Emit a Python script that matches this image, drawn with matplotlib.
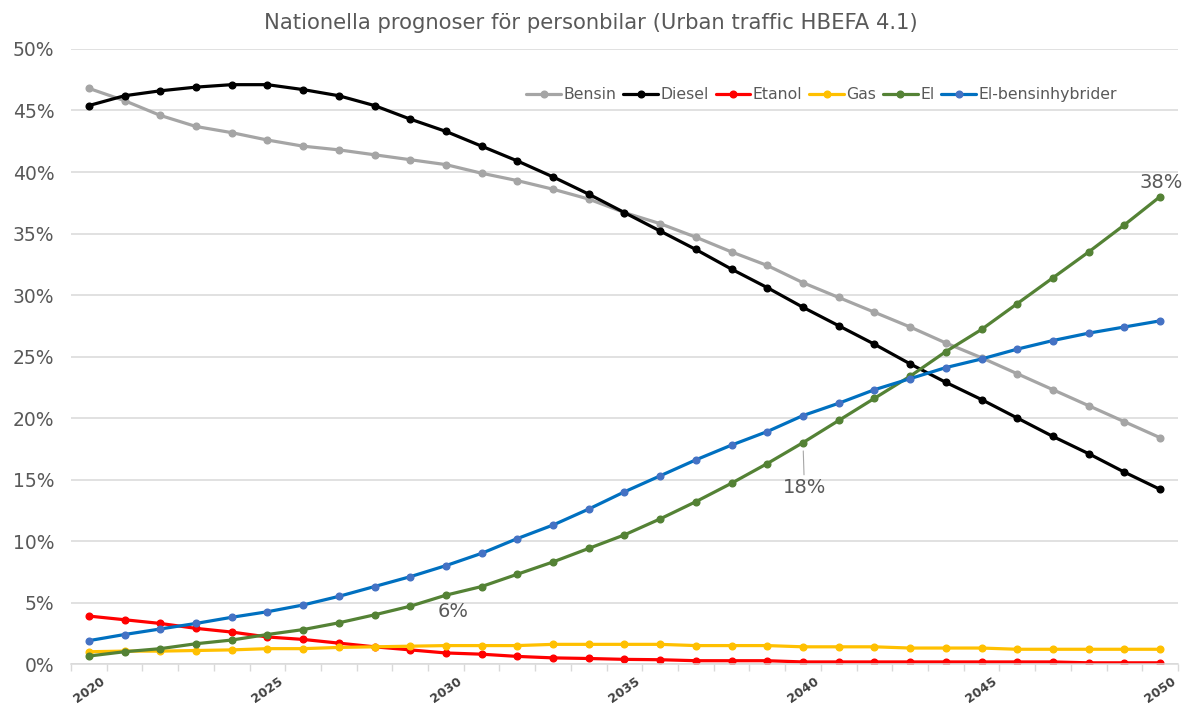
import matplotlib
matplotlib.use("Agg")
import matplotlib.pyplot as plt
from matplotlib.ticker import FixedLocator, FuncFormatter

years = list(range(2020, 2051))

bensin = [46.8, 45.8, 44.6, 43.7, 43.2, 42.6, 42.1, 41.8, 41.4, 41.0,
          40.6, 39.9, 39.3, 38.6, 37.8, 36.7, 35.8, 34.7, 33.5, 32.4,
          31.0, 29.8, 28.6, 27.4, 26.1, 24.9, 23.6, 22.3, 21.0, 19.7, 18.4]
diesel = [45.4, 46.2, 46.6, 46.9, 47.1, 47.1, 46.7, 46.2, 45.4, 44.3,
          43.3, 42.1, 40.9, 39.6, 38.2, 36.7, 35.2, 33.7, 32.1, 30.6,
          29.0, 27.5, 26.0, 24.4, 22.9, 21.5, 20.0, 18.5, 17.1, 15.6, 14.2]
etanol = [3.9, 3.6, 3.3, 2.9, 2.6, 2.2, 2.0, 1.7, 1.4, 1.15,
          0.9, 0.8, 0.62, 0.5, 0.45, 0.38, 0.35, 0.27, 0.27, 0.27,
          0.17, 0.17, 0.17, 0.17, 0.17, 0.17, 0.17, 0.17, 0.1, 0.1, 0.1]
gas = [1.0, 1.05, 1.05, 1.1, 1.15, 1.25, 1.25, 1.35, 1.4, 1.45,
       1.5, 1.5, 1.5, 1.6, 1.6, 1.6, 1.6, 1.5, 1.5, 1.5,
       1.4, 1.4, 1.4, 1.3, 1.3, 1.3, 1.2, 1.2, 1.2, 1.2, 1.2]
el = [0.65, 1.0, 1.25, 1.65, 1.95, 2.4, 2.8, 3.35, 4.0, 4.7,
      5.6, 6.3, 7.3, 8.3, 9.4, 10.5, 11.8, 13.2, 14.7, 16.3,
      18.0, 19.8, 21.6, 23.4, 25.4, 27.2, 29.3, 31.4, 33.5, 35.7, 38.0]
hybrid = [1.9, 2.4, 2.85, 3.3, 3.8, 4.25, 4.8, 5.5, 6.3, 7.1,
          8.0, 9.0, 10.2, 11.3, 12.6, 14.0, 15.3, 16.6, 17.8, 18.9,
          20.2, 21.2, 22.3, 23.2, 24.1, 24.8, 25.6, 26.3, 26.9, 27.4, 27.9]

series_names = ["Bensin", "Diesel", "Etanol", "Gas", "El", "El-bensinhybrider"]
series_values = [bensin, diesel, etanol, gas, el, hybrid]
line_colors = ["#A5A5A5", "#000000", "#FF0000", "#FFC000", "#548235", "#0070C0"]
marker_colors = ["#A5A5A5", "#000000", "#FF0000", "#FFC000", "#548235", "#4472C4"]

# years on the El series that carry a value label
labelled_years = [2030, 2040, 2050]

title = "Nationella prognoser för personbilar (Urban traffic HBEFA 4.1)"

plt.rcParams["font.family"] = ["DejaVu Sans"]
text_grey = "#595959"
grid_grey = "#D9D9D9"

fig = plt.figure(figsize=(11.89, 7.08), dpi=100)
ax = fig.add_axes([0.0597, 0.0621, 0.9310, 0.8687])

for name, vals, lc, mc in zip(series_names, series_values, line_colors, marker_colors):
    ax.plot(years, [v / 100 for v in vals], color=lc, lw=2.3, marker="o",
            markersize=4.8, markerfacecolor=mc, markeredgecolor=mc,
            label=name, solid_capstyle="round")

ax.set_xlim(2019.5, 2050.5)
ax.set_ylim(0, 0.5)

ax.yaxis.set_major_locator(FixedLocator([i * 0.05 for i in range(11)]))
ax.yaxis.set_major_formatter(FuncFormatter(lambda v, p: f"{v * 100:.0f}%"))
ax.grid(axis="y", color=grid_grey, lw=1.1)
ax.set_axisbelow(True)
ax.tick_params(axis="y", length=0, pad=12, labelsize=13.5, labelcolor=text_grey)

ax.xaxis.set_major_locator(FixedLocator(list(range(2020, 2051, 5))))
ax.xaxis.set_minor_locator(FixedLocator([y + 0.5 for y in range(2019, 2051)]))
ax.tick_params(axis="x", which="major", length=0, pad=8, labelsize=9,
               labelcolor="#404040")
ax.tick_params(axis="x", which="minor", length=5, color=grid_grey, width=1)
for lbl in ax.get_xticklabels():
    lbl.set_rotation(35)
    lbl.set_fontweight("bold")
    lbl.set_ha("center")
    lbl.set_va("top")

for side in ["top", "right", "left"]:
    ax.spines[side].set_visible(False)
ax.spines["bottom"].set_color(grid_grey)
ax.spines["bottom"].set_linewidth(1.1)

# value labels on the El series
el_idx = series_names.index("El")
offsets = {2030: (5, -12), 2040: (1, -32), 2050: (1, 10)}
for yr in labelled_years:
    v = series_values[el_idx][years.index(yr)]
    dx, dy = offsets[yr]
    arrow = None
    if yr == 2040:
        arrow = dict(arrowstyle="-", color="#A6A6A6", lw=0.8,
                     shrinkA=0, shrinkB=6)
    ax.annotate(f"{v:.0f}%", xy=(yr, v / 100), xytext=(dx, dy),
                textcoords="offset points", ha="center", va="center",
                fontsize=14, color=text_grey, arrowprops=arrow)

fig.text(0.497, 0.968, title, ha="center", va="center", fontsize=15.2,
         color=text_grey)

leg = ax.legend(loc="center", bbox_to_anchor=(0.691, 0.866),
                bbox_transform=fig.transFigure, ncol=6, frameon=False,
                fontsize=11.3, handlelength=2.2, handletextpad=0.15,
                columnspacing=0.45, borderaxespad=0)
for t in leg.get_texts():
    t.set_color(text_grey)

fig.savefig("out.png", dpi=100)
